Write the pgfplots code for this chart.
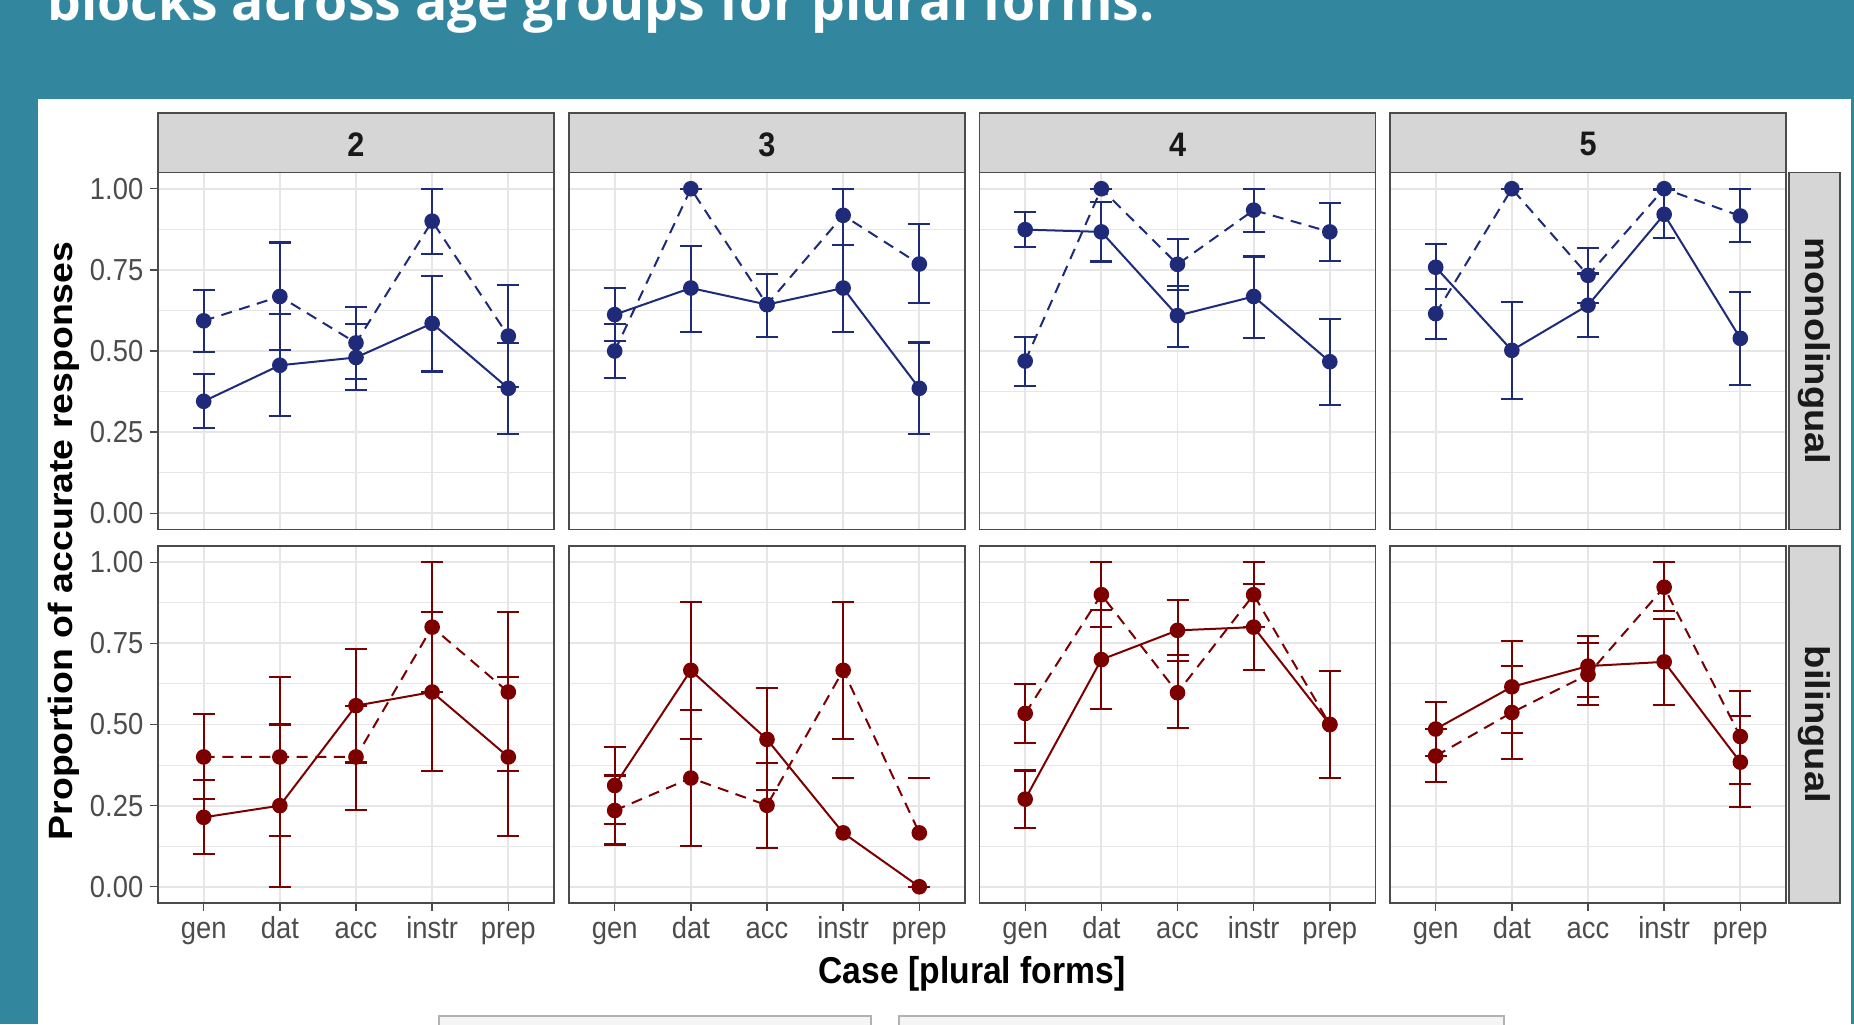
\documentclass[border=0pt]{standalone}
\usepackage{pgfplots}
\pgfplotsset{compat=1.18}
\usepackage{pgfplotstable}
\usepackage{graphicx}
\usepackage{fontspec}
\setmainfont{Liberation Sans}[FakeStretch=0.9]
\newfontfamily\plainsans{Liberation Sans}
\newfontfamily\titlefont{Open Sans}

\definecolor{slidebg}{RGB}{50,134,158}
\definecolor{monoblue}{RGB}{31,42,120}
\definecolor{bired}{RGB}{125,0,0}
\definecolor{stripgray}{RGB}{214,214,214}
\definecolor{gridc}{RGB}{230,230,230}
\definecolor{frame}{RGB}{75,75,75}

% columns: case index, proportion, lower and upper end of the error bar
% monolingual, solid = block 1, dashed = block 2
\pgfplotstableread{
x y lo hi
1 0.345 0.262 0.429
2 0.456 0.299 0.613
3 0.480 0.380 0.582
4 0.585 0.437 0.732
5 0.385 0.245 0.525
}\monoTwoS
\pgfplotstableread{
x y lo hi
1 0.593 0.497 0.689
2 0.668 0.502 0.834
3 0.525 0.413 0.636
4 0.900 0.800 1.000
5 0.546 0.390 0.703
}\monoTwoD
\pgfplotstableread{
x y lo hi
1 0.612 0.531 0.695
2 0.694 0.559 0.823
3 0.643 0.543 0.738
4 0.694 0.559 0.827
5 0.385 0.245 0.526
}\monoThreeS
\pgfplotstableread{
x y lo hi
1 0.500 0.418 0.584
2 1.000 1.000 1.000
3 0.643 0.543 0.738
4 0.918 0.827 1.000
5 0.768 0.648 0.891
}\monoThreeD
\pgfplotstableread{
x y lo hi
1 0.874 0.821 0.929
2 0.867 0.776 0.959
3 0.609 0.513 0.701
4 0.668 0.541 0.791
5 0.467 0.334 0.599
}\monoFourS
\pgfplotstableread{
x y lo hi
1 0.469 0.393 0.543
2 1.000 1.000 1.000
3 0.767 0.689 0.845
4 0.934 0.867 1.000
5 0.867 0.778 0.957
}\monoFourD
\pgfplotstableread{
x y lo hi
1 0.758 0.691 0.829
2 0.502 0.352 0.650
3 0.641 0.543 0.739
4 0.921 0.847 0.996
5 0.539 0.395 0.682
}\monoFiveS
\pgfplotstableread{
x y lo hi
1 0.615 0.538 0.691
2 1.000 1.000 1.000
3 0.733 0.648 0.818
4 1.000 1.000 1.000
5 0.916 0.835 1.000
}\monoFiveD

% bilingual
\pgfplotstableread{
x y lo hi
1 0.214 0.101 0.330
2 0.250 0.000 0.500
3 0.558 0.383 0.733
4 0.600 0.356 0.846
5 0.400 0.156 0.647
}\biTwoS
\pgfplotstableread{
x y lo hi
1 0.400 0.270 0.532
2 0.400 0.156 0.647
3 0.400 0.237 0.558
4 0.800 0.600 1.000
5 0.600 0.357 0.846
}\biTwoD
\pgfplotstableread{
x y lo hi
1 0.312 0.193 0.430
2 0.667 0.455 0.877
3 0.454 0.299 0.613
4 0.166 0.335 0.335
5 0.000 0.000 0.000
}\biThreeS
\pgfplotstableread{
x y lo hi
1 0.235 0.130 0.343
2 0.335 0.125 0.545
3 0.251 0.120 0.381
4 0.667 0.455 0.877
5 0.166 0.335 0.335
}\biThreeD
\pgfplotstableread{
x y lo hi
1 0.270 0.181 0.358
2 0.700 0.548 0.852
3 0.790 0.696 0.884
4 0.800 0.667 0.933
5 0.500 0.335 0.665
}\biFourS
\pgfplotstableread{
x y lo hi
1 0.534 0.442 0.624
2 0.900 0.800 1.000
3 0.598 0.488 0.713
4 0.900 0.800 1.000
5 0.500 0.335 0.665
}\biFourD
\pgfplotstableread{
x y lo hi
1 0.486 0.403 0.570
2 0.616 0.475 0.757
3 0.680 0.585 0.773
4 0.693 0.560 0.826
5 0.384 0.245 0.526
}\biFiveS
\pgfplotstableread{
x y lo hi
1 0.403 0.322 0.486
2 0.537 0.394 0.681
3 0.654 0.560 0.751
4 0.923 0.849 1.000
5 0.463 0.316 0.604
}\biFiveD

\pgfplotsset{
  facet/.style={
    scale only axis, width=198pt, height=178.5pt, anchor=south west,
    xmin=0.4, xmax=5.6, ymin=-0.05, ymax=1.05,
    xtick={1,2,3,4,5}, xticklabels={gen,dat,acc,instr,prep},
    ytick={0,0.25,0.5,0.75,1}, yticklabels={0.00,0.25,0.50,0.75,1.00},
    minor ytick={0.125,0.375,0.625,0.875},
    xmajorgrids, ymajorgrids, yminorgrids,
    major grid style={draw=gridc, line width=0.9pt},
    minor grid style={draw=gridc, line width=0.45pt},
    axis line style={draw=frame, line width=0.7pt},
    tick align=outside, major tick length=3.85pt, minor tick length=0pt,
    tick style={draw=frame, line width=0.7pt},
    xtick pos=left, ytick pos=left,
    tick label style={font=\fontsize{15.2}{18}\selectfont, text=black!70},
    xticklabel style={text height=10.6pt, text depth=3pt},
    /pgf/number format/assume math mode=true,
    clip=false,
  },
  noxlab/.style={xticklabels={}, xtick style={draw=none}},
  noylab/.style={yticklabels={}, ytick style={draw=none}},
}

% error bars of one series, drawn from lo to hi with a cap at each end
\newcommand{\ebars}[2]{%
  \addplot[draw=none, mark=none, forget plot,
    error bars/.cd, y dir=both, y explicit, error mark=-,
    error bar style={draw=#2, line width=1pt, solid},
    error mark options={rotate=90, draw=#2, line width=1.1pt, mark size=5.5pt}]
    table[x=x, y=lo, y error plus expr=\thisrow{hi}-\thisrow{lo}, y error minus expr=0] {#1};}
% both blocks of one facet
\newcommand{\facetdata}[3]{%
  \ebars{#1}{#3}
  \ebars{#2}{#3}
  \addplot[#3, line width=1pt, mark=*, mark size=3.4pt] table[x=x, y=y] {#1};
  \addplot[#3, line width=1pt, dash pattern=on 5.5pt off 3.8pt, mark=*, mark size=3.4pt, mark options={solid}] table[x=x, y=y] {#2};}

\begin{document}
\begin{tikzpicture}
\useasboundingbox (0pt,0pt) rectangle (927pt,512pt);
\fill[slidebg] (0pt,0pt) rectangle (927pt,512pt);
\clip (0pt,0pt) rectangle (927pt,512pt);
\fill[white] (19pt,0pt) rectangle (925.5pt,462.5pt);

\node[anchor=base west, text=white, inner sep=0pt, font=\titlefont\bfseries\fontsize{26.75}{30}\selectfont]
  at (23.5pt,501.65pt) {blocks across age groups for plural forms.};

% monolingual row
\begin{axis}[facet, noxlab, at={(79pt,247.25pt)}]
\facetdata{\monoTwoS}{\monoTwoD}{monoblue}
\end{axis}
\begin{axis}[facet, noxlab, noylab, at={(284.5pt,247.25pt)}]
\facetdata{\monoThreeS}{\monoThreeD}{monoblue}
\end{axis}
\begin{axis}[facet, noxlab, noylab, at={(489.75pt,247.25pt)}]
\facetdata{\monoFourS}{\monoFourD}{monoblue}
\end{axis}
\begin{axis}[facet, noxlab, noylab, at={(695pt,247.25pt)}]
\facetdata{\monoFiveS}{\monoFiveD}{monoblue}
\end{axis}

% bilingual row
\begin{axis}[facet, at={(79pt,60.5pt)}]
\facetdata{\biTwoS}{\biTwoD}{bired}
\end{axis}
\begin{axis}[facet, noylab, at={(284.5pt,60.5pt)}]
\facetdata{\biThreeS}{\biThreeD}{bired}
\end{axis}
\begin{axis}[facet, noylab, at={(489.75pt,60.5pt)}]
\facetdata{\biFourS}{\biFourD}{bired}
\end{axis}
\begin{axis}[facet, noylab, at={(695pt,60.5pt)}]
\facetdata{\biFiveS}{\biFiveD}{bired}
\end{axis}

% facet strips
\foreach \xx/\lab in {79/2, 284.5/3, 489.75/4, 695/5} {
  \draw[fill=stripgray, draw=frame, line width=0.7pt] (\xx pt,425.75pt) rectangle ({\xx pt+198pt},455.4pt);
  \node[font=\bfseries\fontsize{17}{20}\selectfont, text=black!90] at ({\xx pt+99pt},439.8pt) {\lab};
}
\draw[fill=stripgray, draw=frame, line width=0.7pt] (894.5pt,247.25pt) rectangle (920pt,425.75pt);
\draw[fill=stripgray, draw=frame, line width=0.7pt] (894.5pt,60.5pt) rectangle (920pt,239pt);
\node[text=black!90] at (907.25pt,336.5pt)
  {\scalebox{0.9}[1]{\rotatebox{-90}{\plainsans\bfseries\fontsize{19.1}{22}\selectfont monolingual}}};
\node[text=black!90] at (907.25pt,149.75pt)
  {\scalebox{0.9}[1]{\rotatebox{-90}{\plainsans\bfseries\fontsize{19.1}{22}\selectfont bilingual}}};

% axis titles
\node at (32pt,241.5pt)
  {\scalebox{0.9}[1]{\rotatebox{90}{\plainsans\bfseries\fontsize{18.7}{22}\selectfont Proportion of accurate responses}}};
\node[anchor=base, font=\bfseries\fontsize{18.7}{22}\selectfont] at (486pt,20.5pt) {Case [plural forms]};

% legend frames below the plot
\draw[fill=black!4, draw=black!30, line width=1pt] (219.5pt,4pt) rectangle (435.5pt,-10pt);
\draw[fill=black!4, draw=black!30, line width=1pt] (449.5pt,4pt) rectangle (752pt,-10pt);
\end{tikzpicture}
\end{document}
